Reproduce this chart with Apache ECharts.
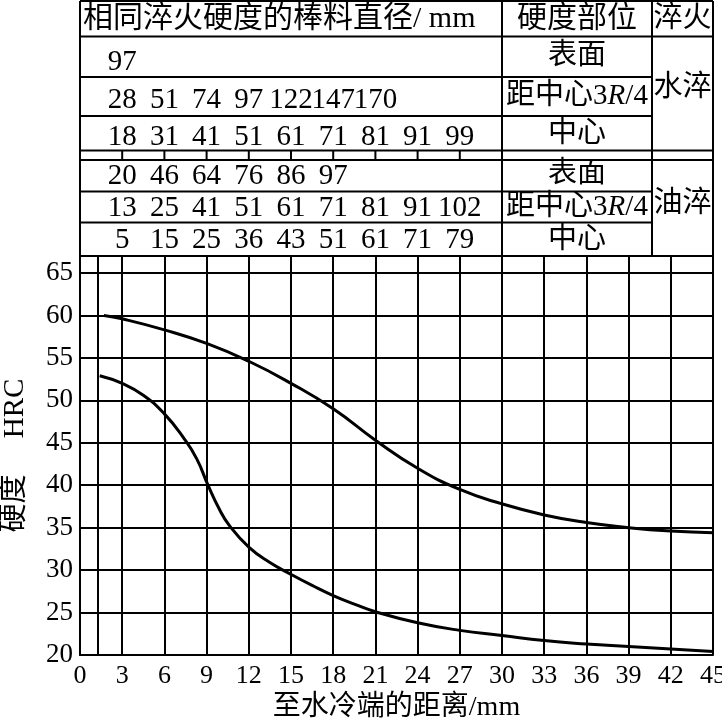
<!DOCTYPE html>
<html><head><meta charset="utf-8">
<script src="https://cdn.jsdelivr.net/npm/echarts@6/dist/echarts.min.js"></script>
<style>html,body{margin:0;padding:0;background:#fff}#c{width:722px;height:726px}</style>
</head><body><div id="c"></div>
<script>
// ---------- data ----------
const xMin = 0, xMax = 45, xStep = 3;
const yMin = 20, yMax = 67, yStep = 5;
const extraGridX = [1.25];
const upperX = [1.7, 3, 6, 9, 12, 15, 18, 21, 24, 27, 30, 33, 36, 39, 42, 45];
const upperY = [60.0, 59.6, 58.3, 56.7, 54.6, 52.0, 49.0, 45.3, 42.0, 39.5, 37.8, 36.5, 35.6, 35.0, 34.6, 34.4];
const lowerX = [1.4, 3, 4.5, 6, 7.4, 8.3, 9.1, 9.9, 10.6, 12, 13.5, 15, 16.5, 18, 19.5, 21, 24, 27, 30, 33, 36, 39, 42, 45];
const lowerY = [52.9, 52.0, 50.6, 48.4, 45.5, 43.1, 40.0, 37.2, 35.3, 32.7, 30.9, 29.5, 28.2, 27.0, 26.0, 25.1, 23.8, 22.9, 22.3, 21.7, 21.3, 21.0, 20.7, 20.4];
const tableDistances = [3, 6, 9, 12, 15, 18, 21, 24, 27];
const waterSurface = [97];
const water34 = [28, 51, 74, 97, 122, 147, 170];
const waterCenter = [18, 31, 41, 51, 61, 71, 81, 91, 99];
const oilSurface = [20, 46, 64, 76, 86, 97];
const oil34 = [13, 25, 41, 51, 61, 71, 81, 91, 102];
const oilCenter = [5, 15, 25, 36, 43, 51, 61, 71, 79];
const headerTexts = ['相同淬火硬度的棒料直径/ mm', '硬度部位', '淬火'];
const positionLabels = ['表面', '距中心3{i|R}/4', '中心'];
const quenchLabels = ['水淬', '油淬'];
const xAxisName = '至水冷端的距离/mm';
const yAxisName = '硬度\u3000 HRC';

// ---------- chart ----------
const FONT = "'Liberation Serif','Noto Sans CJK SC',serif";
const chart = echarts.init(document.getElementById('c'), null, {renderer: 'canvas'});
const pairs = (xs, ys) => xs.map((x, i) => [x, ys[i]]);
const black = '#000';

chart.setOption({
  backgroundColor: '#fff',
  animation: false,
  grid: {left: 80, right: 9, top: 256, bottom: 71, containLabel: false, outerBoundsMode: 'none'},
  xAxis: {
    type: 'value', min: xMin, max: xMax, interval: xStep,
    name: xAxisName, nameLocation: 'middle', nameGap: 39,
    nameTextStyle: {fontFamily: FONT, fontSize: 28, color: black},
    axisLine: {show: true, lineStyle: {color: black, width: 2}},
    axisTick: {show: false},
    axisLabel: {fontFamily: FONT, fontSize: 26, color: black, margin: 8},
    splitLine: {show: true, lineStyle: {color: black, width: 2}}
  },
  yAxis: {
    type: 'value', min: yMin, max: yMax, interval: yStep,
    name: yAxisName, nameLocation: 'middle', nameGap: 50, nameRotate: 90,
    nameTextStyle: {fontFamily: FONT, fontSize: 29, color: black},
    axisLine: {show: true, lineStyle: {color: black, width: 2}},
    axisTick: {show: false},
    axisLabel: {fontFamily: FONT, fontSize: 27, color: black, margin: 7,
      formatter: v => (v % yStep === 0 ? String(v) : '')},
    splitLine: {show: true, lineStyle: {color: black, width: 2}}
  },
  series: [
    {type: 'line', data: pairs(upperX, upperY), smooth: true, symbol: 'none',
     lineStyle: {color: black, width: 3}, silent: true,
     markLine: {silent: true, symbol: ['none', 'none'], label: {show: false},
       lineStyle: {color: black, width: 2, type: 'solid'},
       data: extraGridX.map(v => ({xAxis: v}))}},
    {type: 'line', data: pairs(lowerX, lowerY), smooth: true, symbol: 'none',
     lineStyle: {color: black, width: 3}, silent: true}
  ]
});

// ---------- table above the plot ----------
const px = v => chart.convertToPixel({xAxisIndex: 0}, v);
const L = px(xMin), R = px(xMax), C1 = px(30), C2 = 652;
const rowY = [1, 36.5, 77, 116, 150.5, 160, 191.5, 222.5, 256];
const g = [];
const line = (x1, y1, x2, y2) => g.push({type: 'line', silent: true,
  shape: {x1, y1, x2, y2}, style: {stroke: black, lineWidth: 2}});
const text = (str, x, y, size, align) => g.push({type: 'text', silent: true, x, y,
  style: {text: str, fontFamily: FONT, fontSize: size, fill: black,
    align: align || 'center', verticalAlign: 'middle',
    rich: {i: {fontFamily: FONT, fontSize: size, fontStyle: 'italic', fill: black}}}});

[0, 1, 4, 5, 8].forEach(i => line(L, rowY[i], R, rowY[i]));
[2, 3, 6, 7].forEach(i => line(L, rowY[i], C2, rowY[i]));
[L, C1, C2, R].forEach(x => line(x, rowY[0], x, rowY[8]));
tableDistances.forEach(d => line(px(d), rowY[4], px(d), rowY[5]));

text(headerTexts[0], L + 3, 19, 30, 'left');
text(headerTexts[1], (C1 + C2) / 2, 19, 30);
text(headerTexts[2], (C2 + R) / 2, 19, 29);

const labelYs = [56, 96, 134, 174, 207, 240];
positionLabels.concat(positionLabels).forEach((s, i) => text(s, (C1 + C2) / 2, labelYs[i], 29));
text(quenchLabels[0], (C2 + R) / 2, 88, 29);
text(quenchLabels[1], (C2 + R) / 2, 204, 29);

const numRows = [waterSurface, water34, waterCenter, oilSurface, oil34, oilCenter];
const numYs = [62, 100, 137, 176, 208, 240];
numRows.forEach((row, r) => row.forEach((v, i) => text(String(v), px(tableDistances[i]), numYs[r], 29)));

chart.setOption({graphic: g});
</script></body></html>
